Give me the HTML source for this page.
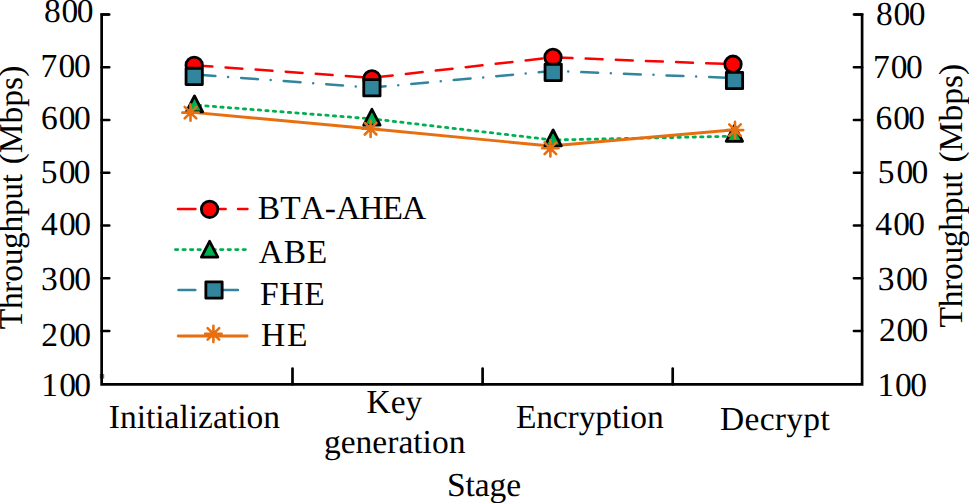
<!DOCTYPE html>
<html><head><meta charset="utf-8"><style>
html,body{margin:0;padding:0;background:#fff;width:969px;height:503px;overflow:hidden}
svg{display:block}
text{font-family:"Liberation Serif",serif;font-size:33.5px;fill:#000;text-rendering:geometricPrecision;font-kerning:none}
</style></head><body>
<svg width="969" height="503" viewBox="0 0 969 503">
<!-- axes -->
<g stroke="#000" stroke-width="2.7" fill="none">
<path d="M109.25 14.5H101.65V384.3H862.1V14.5H853.95"/>
<path d="M109.25 14.5H101.65M862.1 14.5H853.95" stroke-linecap="round"/>
<g stroke-linecap="round">
<path d="M101.65 67.25H109.25M101.65 120H109.25M101.65 172.75H109.25M101.65 225.5H109.25M101.65 278.25H109.25M101.65 331H109.25"/>
<path d="M862.1 67.25H853.95M862.1 120H853.95M862.1 172.75H853.95M862.1 225.5H853.95M862.1 278.25H853.95M862.1 331H853.95"/>
<path d="M292.5 384.3V368.55M482.6 384.3V368.55M672.7 384.3V368.55"/>
</g>
</g>
<rect x="99.8" y="374" width="4.4" height="4.6" fill="#000" fill-opacity="0.55"/>
<!-- left tick labels -->
<g>
<text x="44.12 61.62 76.83" y="21.8">800</text>
<text x="40.60 58.62 73.92" y="77.3">700</text>
<text x="41.10 58.83 73.92" y="129.1">600</text>
<text x="40.71 58.83 73.83" y="183.1">500</text>
<text x="40.96 59.12 74.22" y="235.2">400</text>
<text x="40.88 58.83 74.22" y="289.8">300</text>
<text x="41.21 59.33 74.33" y="345.5">200</text>
<text x="41.36 59.33 74.33" y="395.8">100</text>
</g>
<g>
<text x="876.12 893.42 908.73" y="25.2">800</text>
<text x="872.90 890.73 905.92" y="77.5">700</text>
<text x="875.40 893.23 908.33" y="128.7">600</text>
<text x="877.81 896.42 911.52" y="182.7">500</text>
<text x="875.16 893.23 908.33" y="234.8">400</text>
<text x="877.68 896.02 911.33" y="289.8">300</text>
<text x="878.91 896.62 911.62" y="340.7">200</text>
<text x="877.46 895.02 910.33" y="395.9">100</text>
</g>
<!-- axis titles -->
<text transform="translate(22.3 329.2) rotate(-90)"><tspan letter-spacing="-0.32">Throughput</tspan><tspan dx="1.5"> (Mbps)</tspan></text>
<text transform="translate(961.7 327.4) rotate(-90)"><tspan letter-spacing="-0.32">Throughput</tspan><tspan dx="1.5"> (Mbps)</tspan></text>
<!-- category labels -->
<text x="108.8" y="427.9">Initialization</text>
<text x="366.5" y="413.2">Key</text>
<text x="324.0" y="452.7">generation</text>
<text x="515.9" y="427.8" letter-spacing="-0.12">Encryption</text>
<text x="720.0" y="430.1" letter-spacing="0.3">Decrypt</text>
<text x="447.1" y="496.0" letter-spacing="-0.1">Stage</text>
<!-- series lines -->
<g fill="none" stroke-linecap="round" stroke-linejoin="round">
<polyline stroke="#ff0000" stroke-width="2.5" stroke-dasharray="16.9 13.24" stroke-dashoffset="-1.3" points="194.2,65.3 371.9,77.8 553.0,57.35 733.0,64.25"/>
<polyline stroke="#00b050" stroke-width="2.8" stroke-dasharray="2.4 5.123" stroke-dashoffset="-3.82" points="194.5,105.0 371.9,118.8 553.1,140.0 734.4,136.2"/>
<polyline stroke="#31859c" stroke-width="2.5" stroke-dasharray="16.85 12.73 0 13.08" stroke-dashoffset="-4.42" points="194.2,74.4 371.9,87.6 553.2,71.0 734.5,78.0"/>
<polyline stroke="#e86f0f" stroke-width="2.9" points="190.5,112.1 370.6,128.8 550.4,146.0 735.0,129.8"/>
</g>
<!-- markers -->
<defs>
<circle id="mc" r="8.25" fill="#ff0000" stroke="#000" stroke-width="2.8"/>
<path id="mt" d="M0 -9.7L-8.2 6.2H8.2Z" fill="#00b050" stroke="#000" stroke-width="2.8" stroke-linejoin="round"/>
<rect id="ms" x="-8.15" y="-8.15" width="16.3" height="16.3" fill="#31859c" stroke="#000" stroke-width="2.8" stroke-linejoin="round"/>
<g id="ma" stroke="#e86f0f" stroke-width="2.6" stroke-linecap="round"><path d="M-8.2 0H8.2M0 -8.2V8.2M-5.8 -5.8L5.8 5.8M-5.8 5.8L5.8 -5.8"/></g>
</defs>
<use href="#mc" x="194.2" y="65.3"/><use href="#mc" x="371.9" y="78.8"/><use href="#mc" x="553.0" y="57.35"/><use href="#mc" x="733.0" y="64.25"/>
<use href="#mt" x="194.5" y="105.6"/><use href="#mt" x="371.9" y="119.0"/><use href="#mt" x="553.1" y="139.7"/><use href="#mt" x="734.4" y="135.1"/>
<use href="#ms" x="194.2" y="76.4"/><use href="#ms" x="371.9" y="87.8"/><use href="#ms" x="553.2" y="72.4"/><use href="#ms" x="734.5" y="80.5"/>
<use href="#ma" x="190.5" y="112.6"/><use href="#ma" x="370.6" y="128.7"/><use href="#ma" x="550.4" y="148.3"/><use href="#ma" x="735.0" y="130.1"/>
<!-- legend -->
<g fill="none" stroke-linecap="round">
<path d="M177.95 209.1H195.45M208.65 209.1H225.65M238.05 209.1H247.45" stroke="#ff0000" stroke-width="2.5"/>
<path d="M175.4 249.6H245.4" stroke="#00b050" stroke-width="2.8" stroke-dasharray="2.4 5.123"/>
<path d="M178.45 289.9H247.5" stroke="#31859c" stroke-width="2.5" stroke-dasharray="16.85 12.73 0 13.08"/>
<path d="M178.2 336H247.1" stroke="#e86f0f" stroke-width="2.8"/>
</g>
<use href="#mc" x="209.6" y="209.3"/>
<use href="#mt" x="209.6" y="251.0"/>
<use href="#ms" x="214.0" y="290.0"/>
<use href="#ma" x="213.4" y="333.9"/>
<text x="257.8" y="219.3">BTA-<tspan letter-spacing="-0.9">AHEA</tspan></text>
<text x="258.8" y="262.9" letter-spacing="0.7">ABE</text>
<text x="260.0" y="305.0" letter-spacing="0.7">FHE</text>
<text x="261.0" y="346.0" letter-spacing="1.8">HE</text>
</svg>
</body></html>
